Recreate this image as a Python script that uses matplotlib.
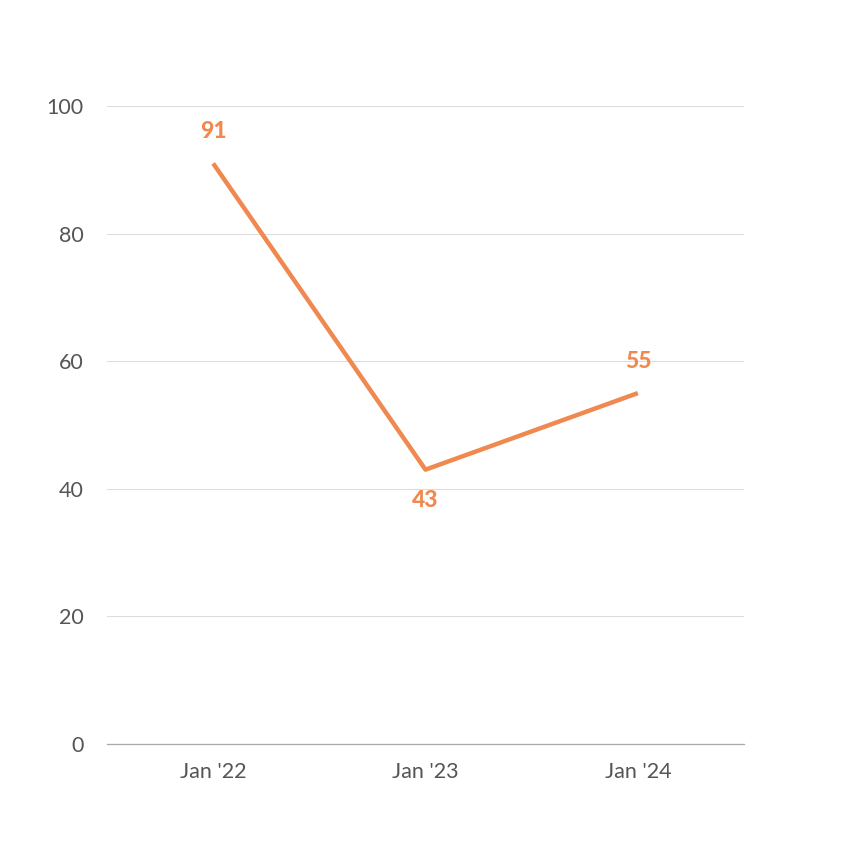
import matplotlib
matplotlib.use("Agg")
import matplotlib.pyplot as plt

categories = ["Jan '22", "Jan '23", "Jan '24"]
values = [91, 43, 55]
label_above = [True, False, True]
y_ticks = [0, 20, 40, 60, 80, 100]

line_color = "#F0894F"
text_color = "#555555"

plt.rcParams['font.family'] = ['Lato', 'DejaVu Sans']

fig = plt.figure(figsize=(8.51, 8.51), dpi=100)
ax = fig.add_axes([107 / 851, 107 / 851, 637 / 851, 638 / 851])

x = list(range(len(categories)))
ax.plot(x, values, color=line_color, linewidth=3.2, solid_capstyle="butt", zorder=3)

for xi, v, above in zip(x, values, label_above):
    offset = 23 if above else -22
    ax.annotate(str(v), (xi, v), xytext=(0, offset), textcoords="offset points",
                ha="center", va="center", color=line_color, fontsize=16.5,
                fontweight="black", family=["Lato", "Open Sans", "DejaVu Sans"])

ax.set_xlim(-0.5, 2.5)
ax.set_ylim(0, 100)
ax.set_xticks(x)
ax.set_xticklabels(categories)
ax.set_yticks(y_ticks)

ax.grid(axis="y", color="#dddddd", linewidth=0.8)
ax.set_axisbelow(True)
for side in ["top", "right", "left"]:
    ax.spines[side].set_visible(False)
ax.spines["bottom"].set_color("#aaaaaa")
ax.spines["bottom"].set_linewidth(0.9)

ax.tick_params(axis="both", length=0, labelsize=15.5, colors=text_color)
ax.tick_params(axis="x", pad=13)
ax.tick_params(axis="y", pad=17)

fig.savefig("out.png", dpi=100)
